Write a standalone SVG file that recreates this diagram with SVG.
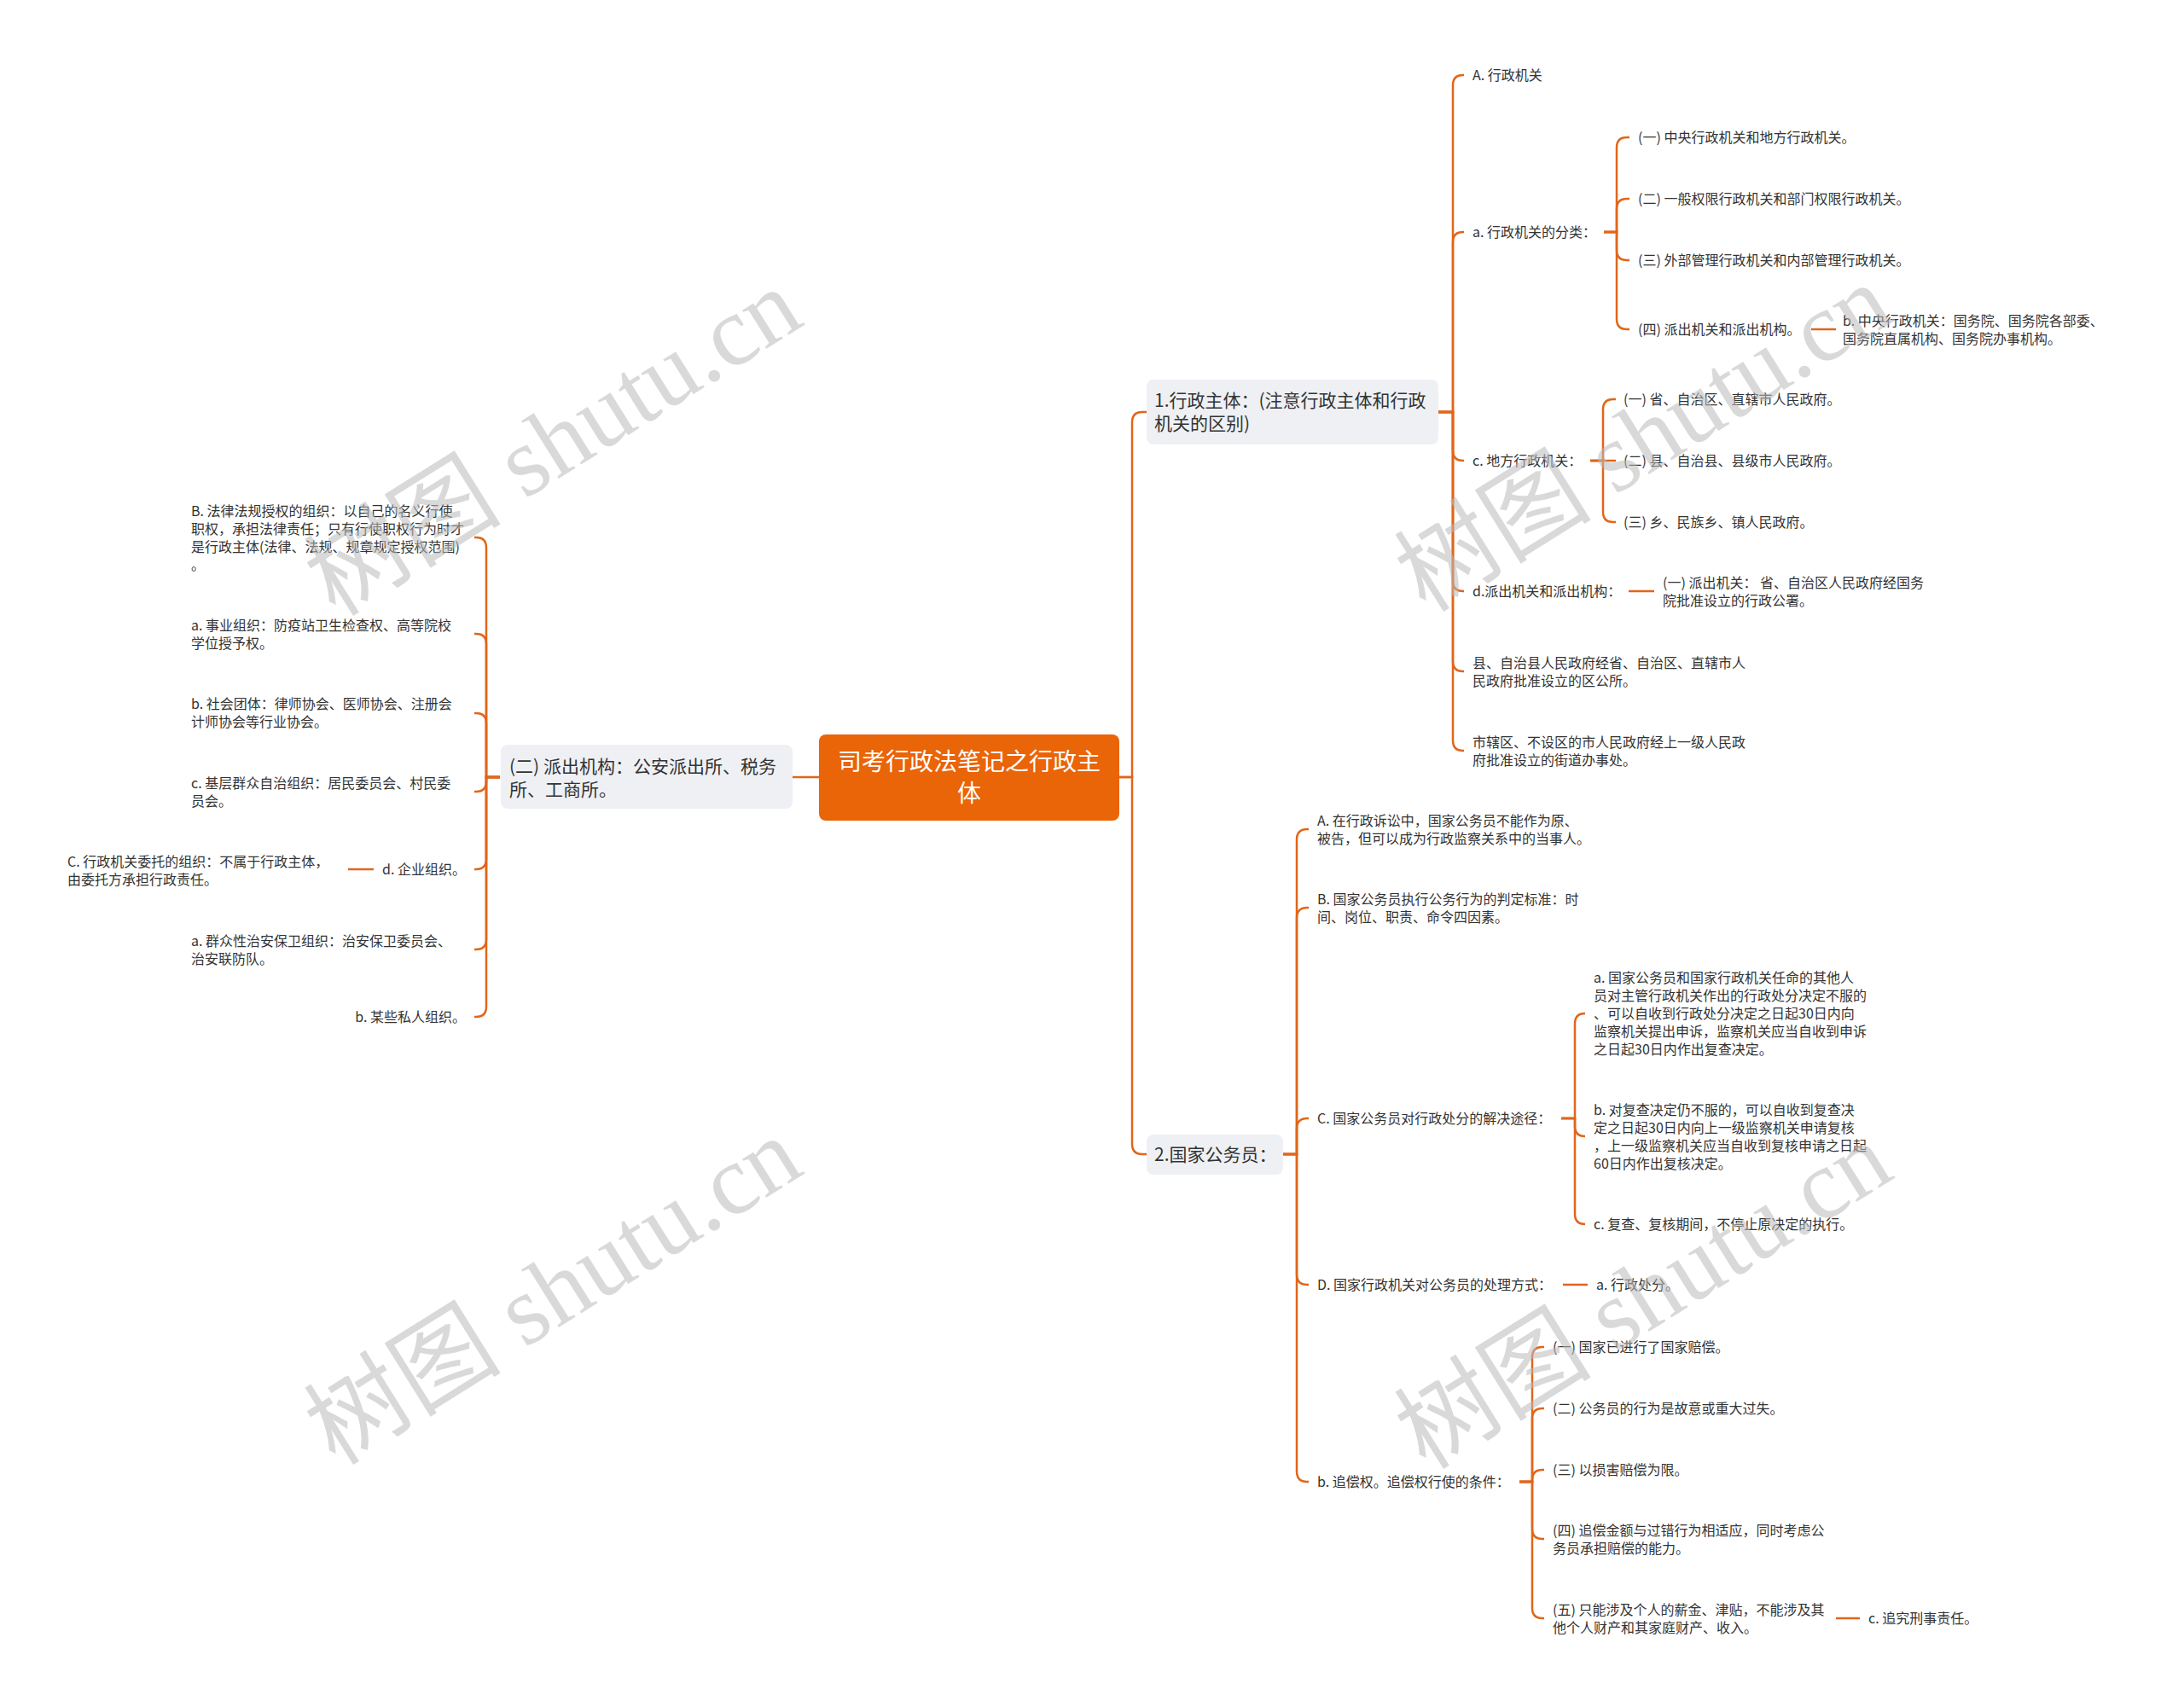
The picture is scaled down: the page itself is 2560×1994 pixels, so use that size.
<svg xmlns="http://www.w3.org/2000/svg" width="2560" height="1994" viewBox="0 0 2560 1994">
<style>
.t{font-family:"Noto Sans CJK SC","Noto Sans",sans-serif;font-size:16px;fill:#333}
.m{font-size:21px}
.rt{font-family:"Noto Sans CJK SC","Noto Sans",sans-serif;font-size:28px;fill:#fff;text-anchor:middle}
.e{text-anchor:end}
.c{fill:none;stroke:#e0661a;stroke-width:2.5}
.box{fill:#eef0f4}
.wm{font-family:"Liberation Serif","Noto Sans CJK SC",serif;font-size:116px;fill:#bbbbbb;opacity:0.55;text-anchor:middle}
</style>
<defs>
<text id="wmt" class="wm" x="0" y="40">树图 shutu.cn</text>
</defs>
<rect width="2560" height="1994" fill="#fff"/>
<g id="connectors">
<path class="c" d="M1312 911H1327V495Q1327 483 1339 483H1344"/>
<path class="c" d="M1312 911H1327V1341Q1327 1353 1339 1353H1344"/>
<path class="c" d="M960 911H929"/>
<path class="c" d="M1686 483H1703V100Q1703 88 1715 88H1716"/>
<path class="c" d="M1686 483H1703V284Q1703 272 1715 272H1716"/>
<path class="c" d="M1686 483H1703V528Q1703 540 1715 540H1716"/>
<path class="c" d="M1686 483H1703V681Q1703 693 1715 693H1716"/>
<path class="c" d="M1686 483H1703V775Q1703 787 1715 787H1716"/>
<path class="c" d="M1686 483H1703V868Q1703 880 1715 880H1716"/>
<path class="c" d="M1880 272H1895V173Q1895 161 1907 161H1910"/>
<path class="c" d="M1880 272H1895V245Q1895 233 1907 233H1910"/>
<path class="c" d="M1880 272H1895V293Q1895 305 1907 305H1910"/>
<path class="c" d="M1880 272H1895V374Q1895 386 1907 386H1910"/>
<path class="c" d="M2123 386H2152"/>
<path class="c" d="M1864 540H1879V480Q1879 468 1891 468H1894"/>
<path class="c" d="M1864 540H1894"/>
<path class="c" d="M1864 540H1879V600Q1879 612 1891 612H1894"/>
<path class="c" d="M1909 693H1939"/>
<path class="c" d="M1504 1353H1520V984Q1520 972 1532 972H1534"/>
<path class="c" d="M1504 1353H1520V1076Q1520 1064 1532 1064H1534"/>
<path class="c" d="M1504 1353H1520V1323Q1520 1311 1532 1311H1534"/>
<path class="c" d="M1504 1353H1520V1494Q1520 1506 1532 1506H1534"/>
<path class="c" d="M1504 1353H1520V1725Q1520 1737 1532 1737H1534"/>
<path class="c" d="M1830 1311H1846V1200Q1846 1188 1858 1188"/>
<path class="c" d="M1830 1311H1846V1320Q1846 1332 1858 1332"/>
<path class="c" d="M1830 1311H1846V1423Q1846 1435 1858 1435"/>
<path class="c" d="M1832 1506H1861"/>
<path class="c" d="M1781 1737H1796V1591Q1796 1579 1808 1579H1810"/>
<path class="c" d="M1781 1737H1796V1663Q1796 1651 1808 1651H1810"/>
<path class="c" d="M1781 1737H1796V1735Q1796 1723 1808 1723H1810"/>
<path class="c" d="M1781 1737H1796V1792Q1796 1804 1808 1804H1810"/>
<path class="c" d="M1781 1737H1796V1885Q1796 1897 1808 1897H1810"/>
<path class="c" d="M2152 1897H2180"/>
<path class="c" d="M586 911H570V642Q570 630 558 630H556"/>
<path class="c" d="M586 911H570V755Q570 743 558 743H556"/>
<path class="c" d="M586 911H570V848Q570 836 558 836H556"/>
<path class="c" d="M586 911H570V916Q570 928 558 928H556"/>
<path class="c" d="M586 911H570V1007Q570 1019 558 1019H556"/>
<path class="c" d="M586 911H570V1101Q570 1113 558 1113H556"/>
<path class="c" d="M586 911H570V1180Q570 1192 558 1192H556"/>
<path class="c" d="M438 1019H408"/>
</g>
<g id="root">
<rect x="960" y="861" width="352" height="101" rx="8" fill="#ea6408"/>
<text class="rt"><tspan x="1136" y="903">司考行政法笔记之行政主</tspan><tspan x="1136" y="940">体</tspan></text>
</g>
<g id="n1">
<rect class="box" x="1344" y="445" width="342" height="76" rx="8"/>
<text class="t m"><tspan x="1353" y="477">1.行政主体：(注意行政主体和行政</tspan><tspan x="1353" y="504">机关的区别)</tspan></text>
</g>
<g id="n1A"><text class="t" x="1726" y="94">A. 行政机关</text></g>
<g id="n1a"><text class="t" x="1726" y="278">a. 行政机关的分类：</text></g>
<g id="n1a1"><text class="t" x="1920" y="167">(一) 中央行政机关和地方行政机关。</text></g>
<g id="n1a2"><text class="t" x="1920" y="239">(二) 一般权限行政机关和部门权限行政机关。</text></g>
<g id="n1a3"><text class="t" x="1920" y="311">(三) 外部管理行政机关和内部管理行政机关。</text></g>
<g id="n1a4"><text class="t" x="1920" y="392">(四) 派出机关和派出机构。</text></g>
<g id="n1a4b"><text class="t"><tspan x="2160" y="382">b. 中央行政机关：国务院、国务院各部委、</tspan><tspan x="2160" y="403">国务院直属机构、国务院办事机构。</tspan></text></g>
<g id="n1c"><text class="t" x="1726" y="546">c. 地方行政机关：</text></g>
<g id="n1c1"><text class="t" x="1903" y="474">(一) 省、自治区、直辖市人民政府。</text></g>
<g id="n1c2"><text class="t" x="1903" y="546">(二) 县、自治县、县级市人民政府。</text></g>
<g id="n1c3"><text class="t" x="1903" y="618">(三) 乡、民族乡、镇人民政府。</text></g>
<g id="n1d"><text class="t" x="1726" y="699">d.派出机关和派出机构：</text></g>
<g id="n1d1"><text class="t"><tspan x="1949" y="689">(一) 派出机关： 省、自治区人民政府经国务</tspan><tspan x="1949" y="710">院批准设立的行政公署。</tspan></text></g>
<g id="n1e"><text class="t"><tspan x="1726" y="783">县、自治县人民政府经省、自治区、直辖市人</tspan><tspan x="1726" y="804">民政府批准设立的区公所。</tspan></text></g>
<g id="n1f"><text class="t"><tspan x="1726" y="876">市辖区、不设区的市人民政府经上一级人民政</tspan><tspan x="1726" y="897">府批准设立的街道办事处。</tspan></text></g>
<g id="n2">
<rect class="box" x="1344" y="1330" width="160" height="47" rx="8"/>
<text class="t m" x="1353" y="1361">2.国家公务员：</text>
</g>
<g id="n2A"><text class="t"><tspan x="1544" y="968">A. 在行政诉讼中，国家公务员不能作为原、</tspan><tspan x="1544" y="989">被告，但可以成为行政监察关系中的当事人。</tspan></text></g>
<g id="n2B"><text class="t"><tspan x="1544" y="1060">B. 国家公务员执行公务行为的判定标准：时</tspan><tspan x="1544" y="1081">间、岗位、职责、命令四因素。</tspan></text></g>
<g id="n2C"><text class="t" x="1544" y="1317">C. 国家公务员对行政处分的解决途径：</text></g>
<g id="n2Ca"><text class="t"><tspan x="1868" y="1152">a. 国家公务员和国家行政机关任命的其他人</tspan><tspan x="1868" y="1173">员对主管行政机关作出的行政处分决定不服的</tspan><tspan x="1868" y="1194">、可以自收到行政处分决定之日起30日内向</tspan><tspan x="1868" y="1215">监察机关提出申诉，监察机关应当自收到申诉</tspan><tspan x="1868" y="1236">之日起30日内作出复查决定。</tspan></text></g>
<g id="n2Cb"><text class="t"><tspan x="1868" y="1307">b. 对复查决定仍不服的，可以自收到复查决</tspan><tspan x="1868" y="1328">定之日起30日内向上一级监察机关申请复核</tspan><tspan x="1868" y="1349">，上一级监察机关应当自收到复核申请之日起</tspan><tspan x="1868" y="1370">60日内作出复核决定。</tspan></text></g>
<g id="n2Cc"><text class="t" x="1868" y="1441">c. 复查、复核期间，不停止原决定的执行。</text></g>
<g id="n2D"><text class="t" x="1544" y="1512">D. 国家行政机关对公务员的处理方式：</text></g>
<g id="n2Da"><text class="t" x="1871" y="1512">a. 行政处分。</text></g>
<g id="n2b"><text class="t" x="1544" y="1743">b. 追偿权。追偿权行使的条件：</text></g>
<g id="n2b1"><text class="t" x="1820" y="1585">(一) 国家已进行了国家赔偿。</text></g>
<g id="n2b2"><text class="t" x="1820" y="1657">(二) 公务员的行为是故意或重大过失。</text></g>
<g id="n2b3"><text class="t" x="1820" y="1729">(三) 以损害赔偿为限。</text></g>
<g id="n2b4"><text class="t"><tspan x="1820" y="1800">(四) 追偿金额与过错行为相适应，同时考虑公</tspan><tspan x="1820" y="1821">务员承担赔偿的能力。</tspan></text></g>
<g id="n2b5"><text class="t"><tspan x="1820" y="1893">(五) 只能涉及个人的薪金、津贴，不能涉及其</tspan><tspan x="1820" y="1914">他个人财产和其家庭财产、收入。</tspan></text></g>
<g id="n2b5c"><text class="t" x="2190" y="1903">c. 追究刑事责任。</text></g>
<g id="n3">
<rect class="box" x="587" y="873" width="342" height="75" rx="8"/>
<text class="t m"><tspan x="597" y="906">(二) 派出机构：公安派出所、税务</tspan><tspan x="597" y="933">所、工商所。</tspan></text>
</g>
<g id="n3B"><text class="t"><tspan x="224" y="605">B. 法律法规授权的组织：以自己的名义行使</tspan><tspan x="224" y="626">职权，承担法律责任；只有行使职权行为时才</tspan><tspan x="224" y="647">是行政主体(法律、法规、规章规定授权范围)</tspan><tspan x="224" y="668">。</tspan></text></g>
<g id="n3a"><text class="t"><tspan x="224" y="739">a. 事业组织：防疫站卫生检查权、高等院校</tspan><tspan x="224" y="760">学位授予权。</tspan></text></g>
<g id="n3b"><text class="t"><tspan x="224" y="831">b. 社会团体：律师协会、医师协会、注册会</tspan><tspan x="224" y="852">计师协会等行业协会。</tspan></text></g>
<g id="n3c"><text class="t"><tspan x="224" y="924">c. 基层群众自治组织：居民委员会、村民委</tspan><tspan x="224" y="945">员会。</tspan></text></g>
<g id="n3d"><text class="t e" x="546" y="1025">d. 企业组织。</text></g>
<g id="n3dC"><text class="t"><tspan x="79" y="1016">C. 行政机关委托的组织：不属于行政主体，</tspan><tspan x="79" y="1037">由委托方承担行政责任。</tspan></text></g>
<g id="n3e"><text class="t"><tspan x="224" y="1109">a. 群众性治安保卫组织：治安保卫委员会、</tspan><tspan x="224" y="1130">治安联防队。</tspan></text></g>
<g id="n3f"><text class="t e" x="546" y="1198">b. 某些私人组织。</text></g>
<g id="watermarks">
<use href="#wmt" transform="translate(648,518) rotate(-32)"/>
<use href="#wmt" transform="translate(648,1513) rotate(-32)"/>
<use href="#wmt" transform="translate(1926,513) rotate(-32)"/>
<use href="#wmt" transform="translate(1926,1518) rotate(-32)"/>
</g>
</svg>
